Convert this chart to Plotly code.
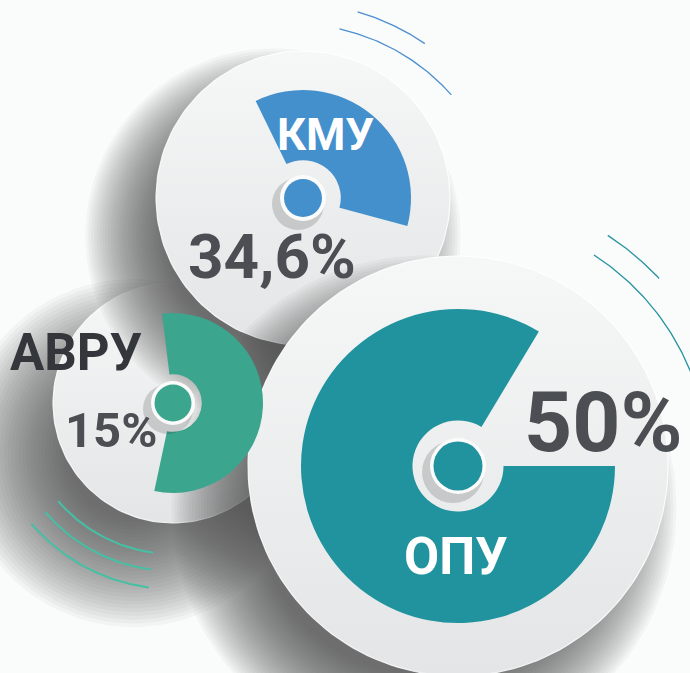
import numpy as np
import plotly.graph_objects as go

W, H = 690, 673

# ---- data ----
labels = ["АВРУ", "КМУ", "ОПУ"]
pct_labels = ["15%", "34,6%", "50%"]
shares = [15, 34.6, 50]
# angular size of the coloured sector drawn in each disc (degrees)
sector_deg = [199, 131, 301]

# ---- layout / style (px, screen coords) ----
geo = {
    "АВРУ": dict(cx=173, cy=403, r=120, rs=90, hole=0.32, dot=22, dotin=18.5, rot=-7,
                 color="#3ca58d", sh=(-40, 50, 56)),
    "КМУ": dict(cx=303, cy=198, r=147, rs=108, hole=0.35, dot=23, dotin=19, rot=-26,
                color="#4390cd", sh=(-30, 38, 42)),
    "ОПУ": dict(cx=458, cy=466, r=210, rs=157, hole=0.29, dot=28, dotin=24.5, rot=90,
                color="#21939f", sh=(-34, 42, 44)),
}
label_style = {
    "АВРУ": dict(name_xy=(76, 352), name_size=51, name_color="#33373b",
                 pct_xy=(111, 430), pct_size=49),
    "КМУ": dict(name_xy=(325, 134), name_size=45, name_color="#ffffff",
                pct_xy=(272, 256), pct_size=62),
    "ОПУ": dict(name_xy=(455, 556), name_size=51, name_color="#ffffff",
                pct_xy=(603, 422), pct_size=84),
}
arcs = [  # center, radius, angle from, angle to (clockwise from 12 o'clock), colour, width
    ((294, 234), 231, 16, 34.5, "#4a8fd0", 1.3),
    ((294, 234), 210, 12.5, 48.5, "#4a8fd0", 1.3),
    ((458, 466), 275, 33, 47, "#2693a0", 1.3),
    ((458, 466), 251, 32.8, 76, "#2693a0", 1.3),
    ((173, 403), 151, 187.5, 229.5, "#45c0a4", 2.0),
    ((173, 403), 168, 187.5, 229.5, "#45c0a4", 2.0),
    ((173, 403), 186, 187.5, 229.5, "#45c0a4", 2.0),
]

fig = go.Figure()


def circ(cx, cy, r, n=160):
    t = np.linspace(0, 2 * np.pi, n)
    return cx + r * np.cos(t), cy + r * np.sin(t)


order = ["АВРУ", "КМУ", "ОПУ"]
N_SH = 30
alpha = 1 - 0.28 ** (1 / N_SH)
# shadows + discs
for name in order:
    g = geo[name]
    dx, dy, blur = g["sh"]
    for k in range(N_SH):
        s = -blur + 2 * blur * (k + 0.5) / N_SH
        xs, ys = circ(g["cx"] + dx, g["cy"] + dy, g["r"] + s, 120)
        fig.add_trace(go.Scatter(x=xs, y=ys, mode="lines", fill="toself", line=dict(width=0),
                                 fillcolor=f"rgba(66,68,72,{alpha:.4f})", hoverinfo="skip",
                                 showlegend=False))
    xs, ys = circ(g["cx"], g["cy"], g["r"])
    fig.add_trace(go.Scatter(
        x=xs, y=ys, mode="lines", fill="toself",
        line=dict(width=1.2, color="rgba(255,255,255,0.85)"),
        fillgradient=dict(type="vertical", colorscale=[[0, "#f6f7f7"], [1, "#e3e5e6"]],
                          start=g["cy"] - g["r"], stop=g["cy"] + g["r"]),
        hoverinfo="skip", showlegend=False))

# decorative arcs
for (cx, cy), r, a0, a1, col, lw in arcs:
    t = np.radians(np.linspace(a0, a1, 60))
    fig.add_trace(go.Scatter(x=cx + r * np.sin(t), y=cy - r * np.cos(t), mode="lines",
                             line=dict(color=col, width=lw), hoverinfo="skip",
                             showlegend=False))

# sectors (pie traces)
for name, deg in zip(labels, sector_deg):
    g = geo[name]
    R = g["rs"]
    fig.add_trace(go.Pie(
        values=[deg, 360 - deg], labels=[name, ""], sort=False, direction="clockwise",
        rotation=g["rot"], hole=g["hole"],
        marker=dict(colors=[g["color"], "rgba(0,0,0,0)"], line=dict(width=0)),
        textinfo="none", hoverinfo="skip", showlegend=False,
        domain=dict(x=[(g["cx"] - R) / W, (g["cx"] + R) / W],
                    y=[(H - g["cy"] - R) / H, (H - g["cy"] + R) / H])))

shapes = []
for name in order:
    g = geo[name]
    cx, cy = g["cx"], g["cy"]
    for (ox, oy, rr, fc) in [(-5, 6, g["dot"] + 3, "rgba(40,40,40,0.18)"),
                             (0, 0, g["dot"], "#fbfbfb"),
                             (0, 0, g["dotin"], g["color"])]:
        shapes.append(dict(type="circle", xref="x", yref="y", layer="above",
                           x0=cx + ox - rr, x1=cx + ox + rr, y0=cy + oy - rr, y1=cy + oy + rr,
                           fillcolor=fc, line=dict(width=0)))

annotations = []
for name, pct in zip(labels, pct_labels):
    s = label_style[name]
    annotations.append(dict(x=s["name_xy"][0], y=s["name_xy"][1], text=name, showarrow=False,
                            xanchor="center", yanchor="middle",
                            font=dict(family="Roboto", size=s["name_size"],
                                      color=s["name_color"], weight="bold")))
    annotations.append(dict(x=s["pct_xy"][0], y=s["pct_xy"][1], text=pct, showarrow=False,
                            xanchor="center", yanchor="middle",
                            font=dict(family="Roboto", size=s["pct_size"],
                                      color="#4b4f53", weight="bold")))

fig.update_layout(
    width=W, height=H, margin=dict(l=0, r=0, t=0, b=0),
    paper_bgcolor="#fafbfb", plot_bgcolor="rgba(0,0,0,0)",
    xaxis=dict(range=[0, W], visible=False, fixedrange=True),
    yaxis=dict(range=[H, 0], visible=False, fixedrange=True),
    shapes=shapes, annotations=annotations, showlegend=False,
)
fig.write_html("out.html", config={"displayModeBar": False},
               post_script="document.body.style.margin='0';document.body.style.overflow='hidden';")
